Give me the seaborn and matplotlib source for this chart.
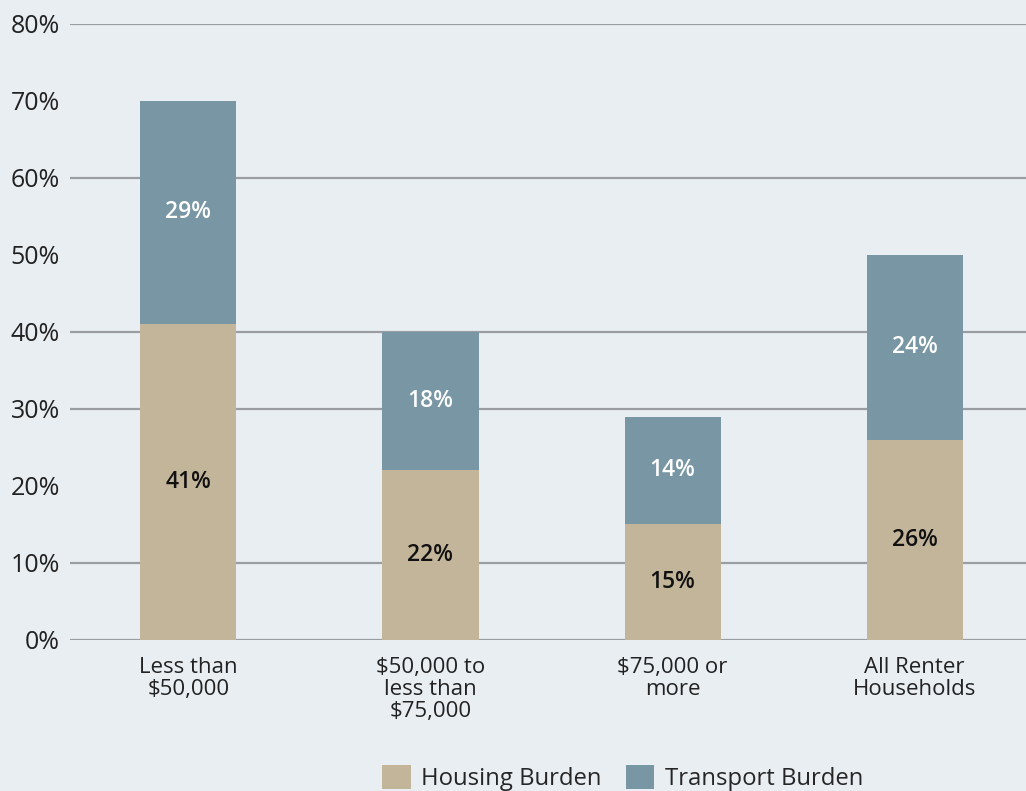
import pandas as pd
import seaborn as sns
import matplotlib.pyplot as plt
from matplotlib.patches import Patch

# data
groups = ['Less than\n$50,000', '$50,000 to\nless than\n$75,000', '$75,000 or\nmore', 'All Renter\nHouseholds']
housing = [41, 22, 15, 26]
transport = [29, 18, 14, 24]
yticks = [0, 10, 20, 30, 40, 50, 60, 70, 80]
grid_levels = [0, 10, 30, 40, 60, 80]

BG = '#e9eef3'
C_HOUSE = '#c3b59a'
C_TRANS = '#7896a3'
GRID = '#9a9ea2'

sns.set_theme(style='white')
plt.rcParams['font.family'] = ['Open Sans', 'DejaVu Sans']

df = pd.DataFrame({'group': groups, 'housing': housing, 'transport': transport})
df['total'] = df['housing'] + df['transport']

fig = plt.figure(figsize=(10.26, 7.91), dpi=100, facecolor=BG)
ax = fig.add_axes([0.068, 0.191, 0.932, 0.779])
ax.set_facecolor(BG)

for lvl in grid_levels:
    ax.axhline(lvl, color=GRID, lw=1.6, zorder=0)

sns.barplot(data=df, x='group', y='total', color=C_TRANS, width=0.397,
            saturation=1, linewidth=0, ax=ax, zorder=2)
sns.barplot(data=df, x='group', y='housing', color=C_HOUSE, width=0.397,
            saturation=1, linewidth=0, ax=ax, zorder=3)

# labels inside segments
for i, (h, t) in enumerate(zip(housing, transport)):
    ax.text(i, h / 2, f'{h}%', ha='center', va='center', fontsize=16.5,
            fontweight='semibold', color='#111111', zorder=4)
    ax.text(i, h + t / 2, f'{t}%', ha='center', va='center', fontsize=16.5,
            fontweight='semibold', color='white', zorder=4)

ax.set_ylim(0, 80)
ax.set_xlim(-0.49, 3.46)
ax.set_yticks(yticks)
ax.set_yticklabels([f'{v}%' for v in yticks], fontsize=18, color='#222222')
ax.tick_params(axis='y', length=0, pad=7)
ax.tick_params(axis='x', length=0, pad=12)
for lab in ax.get_xticklabels():
    lab.set_fontsize(16)
    lab.set_color('#222222')
    lab.set_linespacing(1.08)
ax.set_xlabel('')
ax.set_ylabel('')
for s in ax.spines.values():
    s.set_visible(False)

handles = [Patch(facecolor=C_HOUSE, edgecolor='none', label='Housing Burden'),
           Patch(facecolor=C_TRANS, edgecolor='none', label='Transport Burden')]
fig.legend(handles=handles, loc='lower center', bbox_to_anchor=(0.607, -0.027),
           ncol=2, frameon=False, fontsize=17.2, handlelength=1.2, handleheight=1.2,
           handletextpad=0.45, columnspacing=1.0)

fig.savefig('out.png', dpi=100, facecolor=BG)
